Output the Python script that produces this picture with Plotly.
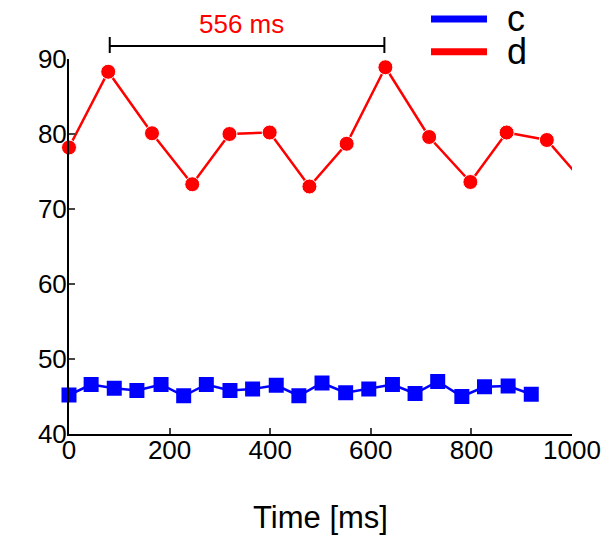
import plotly.graph_objects as go

# ---- data ----
time_c = [0, 44, 90, 135, 183, 228, 273, 320, 365, 412, 457, 503, 550, 596, 643, 688, 733, 781, 826, 873, 919]
vals_c = [45.2, 46.6, 46.1, 45.8, 46.6, 45.1, 46.6, 45.8, 46.0, 46.5, 45.1, 46.8, 45.5, 46.0, 46.6, 45.4, 47.0, 45.0, 46.3, 46.4, 45.3]

time_d = [0, 78, 165, 245, 319, 399, 478, 552, 629, 716, 798, 870, 950, 1032]
vals_d = [78.2, 88.3, 80.1, 73.3, 80.0, 80.2, 73.0, 78.7, 88.9, 79.6, 73.6, 80.2, 79.2, 72.9]

x_ticks = [0, 200, 400, 600, 800, 1000]
y_ticks = [40, 50, 60, 70, 80, 90]
period_bounds = [81, 627]
period_label = "556 ms"
legend_names = ["c", "d"]

BLUE = "#0000FF"
RED = "#FF0000"
FONT = "Liberation Sans, Arial, sans-serif"

fig = go.Figure()
fig.add_trace(go.Scatter(
    x=time_c, y=vals_c, mode="lines+markers", name=legend_names[0],
    line=dict(color=BLUE, width=2.5),
    marker=dict(symbol="square", size=15, color=BLUE, opacity=1),
    cliponaxis=False, showlegend=False))
fig.add_trace(go.Scatter(
    x=time_d, y=vals_d, mode="lines+markers", name=legend_names[1],
    line=dict(color=RED, width=2.5),
    marker=dict(symbol="circle", size=[15 if t <= 1000 else 0 for t in time_d],
                color=RED, opacity=1),
    cliponaxis=False, showlegend=False))

# period bracket
y_br, y_lo, y_hi = 1.0347, 1.016, 1.0587
fig.add_shape(type="line", xref="x", yref="paper", x0=period_bounds[0], x1=period_bounds[1],
              y0=y_br, y1=y_br, line=dict(color="black", width=2))
for xb in period_bounds:
    fig.add_shape(type="line", xref="x", yref="paper", x0=xb, x1=xb,
                  y0=y_lo, y1=y_hi, line=dict(color="black", width=2))
fig.add_annotation(x=sum(period_bounds) / 2 - 11, y=1.093, xref="x", yref="paper",
                   text=period_label, showarrow=False,
                   font=dict(color=RED, size=26, family=FONT),
                   xanchor="center", yanchor="middle")

# manual legend
for name, col, yy in [(legend_names[0], BLUE, 1.1067), (legend_names[1], RED, 1.0195)]:
    fig.add_shape(type="line", xref="paper", yref="paper", x0=0.7197, x1=0.831,
                  y0=yy, y1=yy, line=dict(color=col, width=7))
    fig.add_annotation(x=0.867, y=yy, xref="paper", yref="paper", text=name,
                       showarrow=False, xanchor="left", yanchor="middle",
                       font=dict(size=36, color="black", family=FONT))

fig.update_layout(
    width=613, height=537,
    margin=dict(l=69, r=41, t=59, b=103, autoexpand=False),
    paper_bgcolor="white", plot_bgcolor="white",
    font=dict(family=FONT, color="black", size=26),
    showlegend=False,
)
fig.update_xaxes(
    range=[0, 1000], tickvals=x_ticks, ticks="inside", ticklen=6, tickwidth=2,
    showline=True, linecolor="black", linewidth=2, showgrid=False, zeroline=False,
    automargin=False, ticklabelstandoff=-8,
    tickfont=dict(size=26), title=dict(text="Time [ms]", font=dict(size=31), standoff=42),
)
fig.update_yaxes(
    range=[40, 90], tickvals=y_ticks, ticks="inside", ticklen=6, tickwidth=2,
    showline=True, linecolor="black", linewidth=2, showgrid=False, zeroline=False,
    automargin=False, ticklabelstandoff=-5,
    tickfont=dict(size=26),
)

fig.write_html("out.html", config={"displayModeBar": False},
               post_script="document.body.style.margin='0';document.body.style.overflow='hidden';")
